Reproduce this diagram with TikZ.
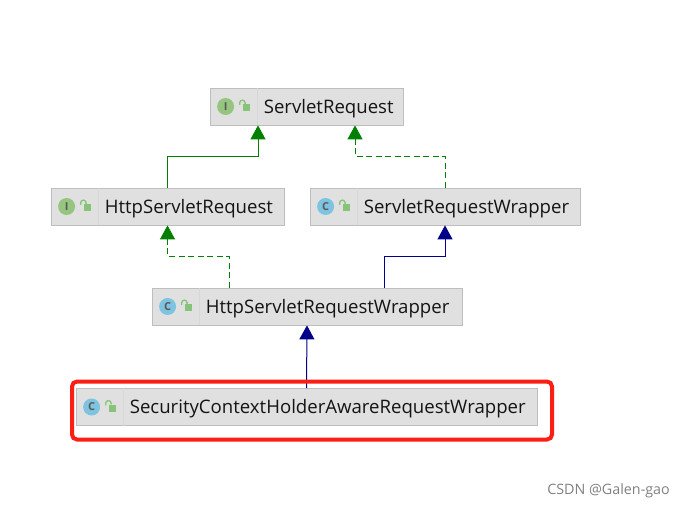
\documentclass[tikz,border=0pt]{standalone}
\usepackage{fontspec}
\usepackage{xcolor}
\usepackage{tikz}
\usetikzlibrary{arrows.meta, positioning, calc}
\setmainfont{Open Sans}
\definecolor{umlgreen}{RGB}{0, 128, 0}
\definecolor{umlnavy}{RGB}{0, 0, 139}
\definecolor{umlfill}{RGB}{224, 224, 224}
\definecolor{umlline}{RGB}{190, 190, 190}
\definecolor{iface}{RGB}{150, 197, 128}
\definecolor{klass}{RGB}{126, 196, 224}
\definecolor{lockgreen}{RGB}{135, 195, 120}

\begin{document}
\begin{tikzpicture}[
    x=1pt, y=1pt,
    cell/.style={rectangle, draw=umlline, fill=umlfill, line width=0.8pt, minimum height=37pt, inner sep=0pt},
    title/.style={anchor=west, inner sep=0pt, font=\fontsize{18.6}{21}\selectfont, text=black!92},
    badge/.style={circle, minimum size=17pt, inner sep=0pt, font=\fontsize{11}{11}\selectfont\bfseries, text=black!65},
    lockbody/.style={rectangle, fill=lockgreen, minimum width=7pt, minimum height=7pt, inner sep=0pt},
    arr/.style={-{Triangle[length=14pt, width=15pt]}, line width=1pt},
    impl/.style={arr, dash pattern=on 6pt off 3.5pt}
]
\useasboundingbox (0,0) rectangle (685,-508);

% Boxes
\node[cell, minimum width=193pt] (sr) at (306.5,-106.5) {};
\node[cell, minimum width=233pt] (hsr) at (167.5,-206.5) {};
\node[cell, minimum width=270pt] (srw) at (445,-206.5) {};
\node[cell, minimum width=310pt] (hsrw) at (307,-306.5) {};
\node[cell, minimum width=461pt] (schw) at (306.5,-407) {};

% Icons and names
\foreach \n/\k/\c/\t in {sr/I/iface/ServletRequest, hsr/I/iface/HttpServletRequest, srw/C/klass/ServletRequestWrapper, hsrw/C/klass/HttpServletRequestWrapper, schw/C/klass/SecurityContextHolderAwareRequestWrapper} {
    \node[badge, fill=\c] (\n-icon) at ([xshift=16pt]\n.west) {\k};
    \node[lockbody] (\n-lock) at ([xshift=36.5pt, yshift=-1pt]\n.west) {};
    \draw[lockgreen, line width=1.3pt] ([xshift=-1pt]\n-lock.north) -- ++(0,1) arc[start angle=0, end angle=180, radius=2.7pt] -- ++(0,-2);
    \draw[umlline!25!umlfill, line width=0.6pt] ([xshift=48pt]\n.north west) -- ([xshift=48pt]\n.south west);
    \node[title] (\n-name) at ([xshift=54pt, yshift=-2pt]\n.west) {\t};
}

% Connections
\draw[arr, umlgreen] (hsr.north) -- ++(0,31.5) -| ([xshift=-48.5pt]sr.south);
\draw[impl, umlgreen] (srw.north) -- ++(0,31.5) -| ([xshift=48.5pt]sr.south);
\draw[impl, umlgreen] ([xshift=-78pt]hsrw.north) -- ++(0,31.5) -| (hsr.south);
\draw[arr, umlnavy] ([xshift=77pt]hsrw.north) -- ++(0,31.5) -| (srw.south);
\draw[arr, umlnavy] (schw.north) -- (hsrw.south);

% Highlight
\node[rectangle, draw={rgb,255:red,250;green,30;blue,20}, line width=4pt, rounded corners=5pt, minimum width=480pt, minimum height=58pt, inner sep=0pt] (mark) at (312,-410.5) {};

\node[anchor=east, inner sep=0pt, text=black!50, font=\fontsize{14.3}{16}\selectfont] (credit) at (670,-491) {CSDN @Galen-gao};
\end{tikzpicture}
\end{document}
